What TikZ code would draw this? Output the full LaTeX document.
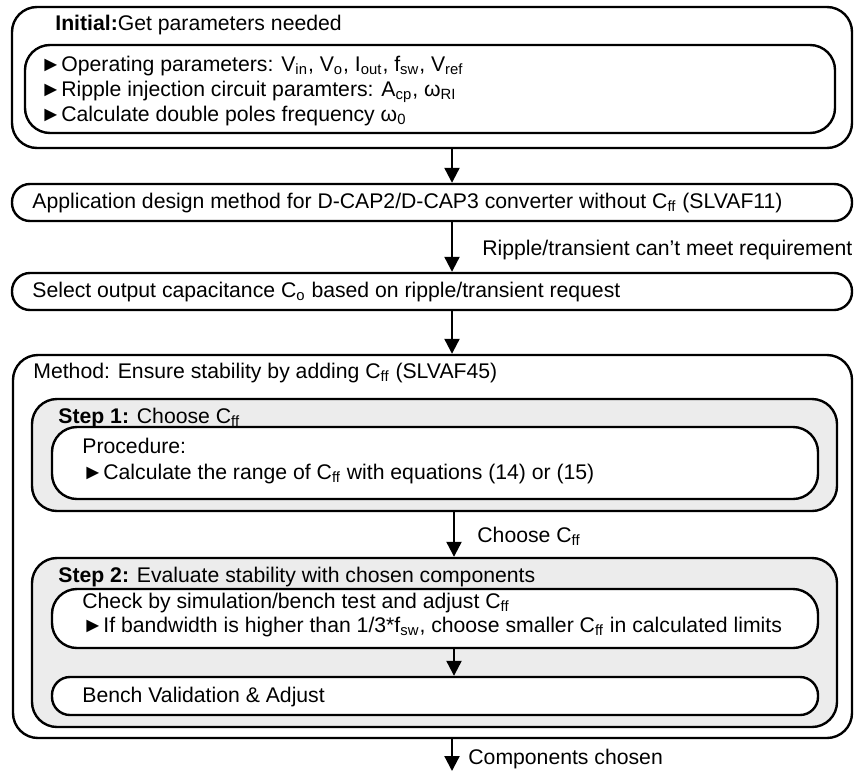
\documentclass[tikz,border=0pt]{standalone}
\usepackage{fontspec}
\setmainfont{Liberation Sans}
\usetikzlibrary{arrows.meta}
\usetikzlibrary{fit}

\tikzset{
  frame/.style={draw, line width=1.2pt, rounded corners=12.5pt, inner sep=0pt},
  pill/.style={draw, line width=1.2pt, rounded corners=9pt, inner sep=0pt},
  stepbox/.style={frame, fill=gray!15},
  inbox/.style={frame, fill=white},
  txt/.style={anchor=base west, inner sep=0pt, font=\fontsize{10.6}{12.6}\selectfont},
  arr/.style={-{Triangle[width=7.5pt,length=7.5pt]}, line width=1.1pt},
}

\begin{document}
\begin{tikzpicture}[x=0.5pt, y=-0.5pt]
\useasboundingbox (0,0) rectangle (855,771);
\coordinate (ax) at (452,0);
\coordinate (bx) at (454,0);
\coordinate (endpt) at (452,771);

% initial parameters
\node[frame, fit={(12,7) (852,148)}] (init) {};
\node[inbox, fit={(25,45) (835,133)}] (initin) {};
\node[txt] (t1) at (55,30) {\textbf{Initial:}Get parameters needed};
\node[txt] (p1) at (40,71) {►Operating parameters: V\textsubscript{in}, V\textsubscript{o}, I\textsubscript{out}, f\textsubscript{sw}, V\textsubscript{ref}};
\node[txt] (p2) at (40,96) {►Ripple injection circuit paramters: A\textsubscript{cp}, ω\textsubscript{RI}};
\node[txt] (p3) at (40,121) {►Calculate double poles frequency ω\textsubscript{0}};

% design without Cff
\node[pill, fit={(12,184) (852,221)}] (appl) {};
\node[txt] (t2) at (32,208) {Application design method for D-CAP2/D-CAP3 converter without C\textsubscript{ff} (SLVAF11)};
\node[pill, fit={(12,273) (852,310)}] (sel) {};
\node[txt] (t3) at (32,297) {Select output capacitance C\textsubscript{o} based on ripple/transient request};
\node[txt] (l1) at (482,255) {Ripple/transient can’t meet requirement};

% method with Cff
\node[frame, fit={(13,355) (852,738)}] (meth) {};
\node[txt] (t4) at (33,378) {Method: Ensure stability by adding C\textsubscript{ff} (SLVAF45)};

\node[stepbox, fit={(32,399) (837,511)}] (step1) {};
\node[txt] (s1) at (58,423) {\textbf{Step 1:} Choose C\textsubscript{ff}};
\node[inbox, fit={(52,427) (818,499)}] (proc) {};
\node[txt] (s1a) at (82,453) {Procedure:};
\node[txt] (s1b) at (82,479) {►Calculate the range of C\textsubscript{ff} with equations (14) or (15)};
\node[txt] (l2) at (477,542) {Choose C\textsubscript{ff}};

\node[stepbox, fit={(32,558) (837,727)}] (step2) {};
\node[txt] (s2) at (58,582) {\textbf{Step 2:} Evaluate stability with chosen components};
\node[inbox, fit={(52,589) (818,648)}] (check) {};
\node[txt] (s2a) at (82,608) {Check by simulation/bench test and adjust C\textsubscript{ff}};
\node[txt] (s2b) at (82,632) {►If bandwidth is higher than 1/3*f\textsubscript{sw}, choose smaller C\textsubscript{ff} in calculated limits};
\node[pill, fill=white, fit={(52,677) (818,715)}] (bench) {};
\node[txt] (s2c) at (82,702) {Bench Validation \& Adjust};
\node[txt] (l3) at (468,764) {Components chosen};

% arrows
\draw[arr] (init.south -| ax) -- (appl.north -| ax);
\draw[arr] (appl.south -| ax) -- (sel.north -| ax);
\draw[arr] (sel.south -| ax) -- (meth.north -| ax);
\draw[arr] (step1.south -| bx) -- (step2.north -| bx);
\draw[arr] (check.south -| bx) -- (bench.north -| bx);
\draw[arr] (meth.south -| ax) -- (endpt);
\end{tikzpicture}
\end{document}
